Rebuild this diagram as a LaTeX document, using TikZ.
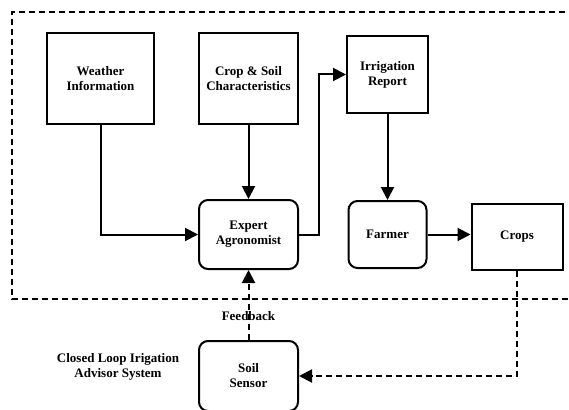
\documentclass[tikz,border=0pt]{standalone}
\usepackage{fontspec}
\setmainfont{Liberation Serif}
\usetikzlibrary{positioning,arrows.meta}
\newcommand{\connectbox}[2]{%
  \draw[->] (#1) -- (#2)}
\newcommand{\connectelbow}[2]{%
  \draw[->] (#1) |- (#2)}
\newcommand{\feedbackelbow}[2]{%
  \draw[->, loopdash] (#1) |- (#2)}

\begin{document}
\begin{tikzpicture}[x=1pt, y=-1pt,
    box/.style={rectangle, draw, line width=2pt, align=center,
      font=\fontsize{13}{15}\selectfont\bfseries},
    roundbox/.style={box, rounded corners=9pt},
    loopdash/.style={dash pattern=on 6pt off 4pt},
    >={Triangle[length=13pt, width=13pt]}, line width=2pt]
  \useasboundingbox (0,0) rectangle (569,409);

  % system boundary, open to the right
  \draw[loopdash] (575,12) -| (12,299) -- (575,299);

  \node[box, minimum width=107pt, minimum height=91pt] (weather) at (100.5,78.5) {Weather\\Information};
  \node[box, minimum width=99pt, minimum height=91pt, right=43pt of weather] (crop) {Crop \& Soil\\Characteristics};
  \node[box, minimum width=81pt, minimum height=77pt, right=47pt of crop, yshift=4pt] (report) {Irrigation\\Report};

  \node[roundbox, minimum width=99pt, minimum height=69pt, below=74pt of crop] (expert) {Expert\\Agronomist};
  \node[roundbox, minimum width=78pt, minimum height=67pt, below=86pt of report] (farmer) {Farmer};
  \node[box, minimum width=91pt, minimum height=66pt, right=43pt of farmer, yshift=-2.5pt] (crops) {Crops};
  \node[roundbox, minimum width=99pt, minimum height=70pt, below=70pt of expert] (sensor) {Soil\\Sensor};

  \node[align=center, font=\fontsize{13}{15}\selectfont\bfseries] (system) at (118,367) {Closed Loop Irigation\\Advisor System};

  \connectelbow{weather}{expert};
  \connectbox{crop}{expert};
  \draw[->] (expert.east) -- ++(20,0) |- (report.west);
  \connectbox{report}{farmer};
  \connectbox{farmer}{farmer -| crops.west};

  % feedback loop
  \draw[->, loopdash] (sensor) -- (expert)
    node[pos=0.34, font=\fontsize{13}{15}\selectfont\bfseries] (feedback) {Feedback};
  \feedbackelbow{crops}{sensor};
\end{tikzpicture}
\end{document}
